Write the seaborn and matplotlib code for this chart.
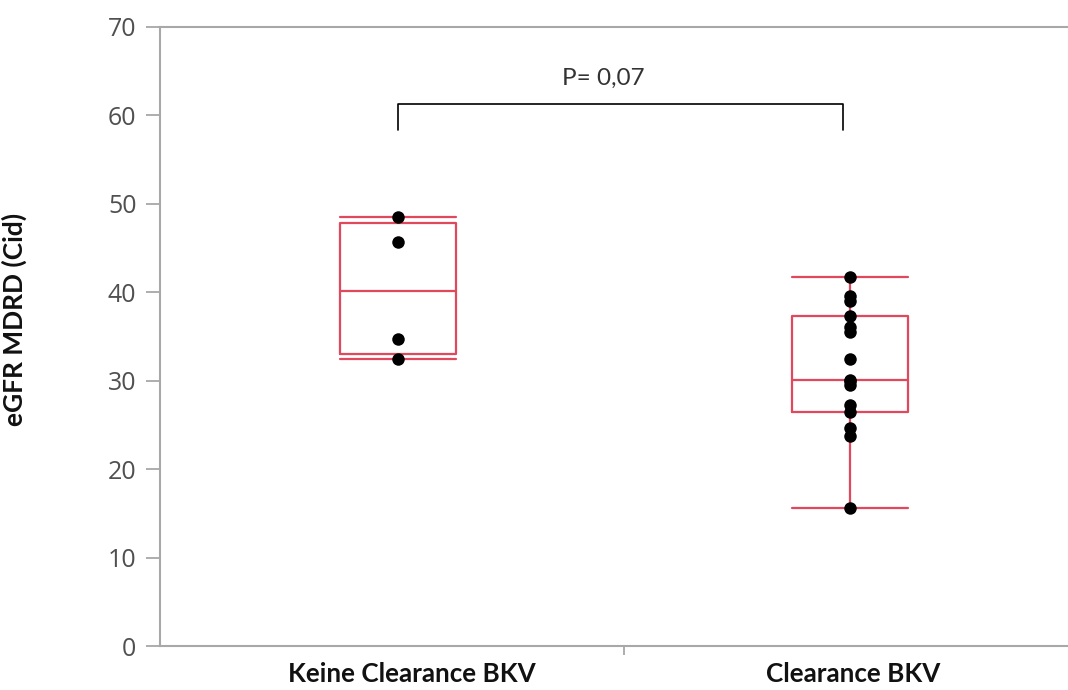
import numpy as np
import pandas as pd
import seaborn as sns
import matplotlib
matplotlib.use("Agg")
import matplotlib.pyplot as plt
from matplotlib.ticker import FixedLocator
from matplotlib.transforms import ScaledTranslation

# ---- data ----
categories = ["Keine Clearance BKV", "Clearance BKV"]
keine_values = [32.5, 34.7, 45.7, 48.5]
clearance_values = [15.6, 23.7, 24.7, 26.5, 27.3, 29.5, 30.0, 30.1,
                    32.4, 35.5, 36.1, 37.3, 39.0, 39.6, 41.7]
y_ticks = [0, 10, 20, 30, 40, 50, 60, 70]
p_text = "P= 0,07"
y_label = "eGFR MDRD (Cid)"

df = pd.DataFrame({
    "group": [categories[0]] * len(keine_values) + [categories[1]] * len(clearance_values),
    "value": keine_values + clearance_values,
})

sns.set_theme(style="white")
plt.rcParams['font.family'] = ['Open Sans', 'DejaVu Sans']

fig = plt.figure(figsize=(10.68, 6.90), dpi=100)
ax = fig.add_axes([160 / 1068, 44 / 690, 1 - 160 / 1068, (646 - 27) / 690])

# box statistics (quartiles as computed by the original software)
stats = []
for vals in (keine_values, clearance_values):
    v = np.sort(np.asarray(vals, dtype=float))
    q1, med, q3 = np.percentile(v, [25, 50, 75], method="weibull")
    iqr = q3 - q1
    lo = v[v >= q1 - 1.5 * iqr].min()
    hi = v[v <= q3 + 1.5 * iqr].max()
    stats.append(dict(med=med, q1=q1, q3=q3, whislo=lo, whishi=hi, fliers=[]))

red = "#e2485c"
lw = 1.6
ax.bxp(stats, positions=[0, 1], widths=0.255, showfliers=False,
       boxprops=dict(color=red, linewidth=lw),
       whiskerprops=dict(color=red, linewidth=lw),
       capprops=dict(color=red, linewidth=lw),
       medianprops=dict(color=red, linewidth=lw),
       capwidths=0.255, manage_ticks=False)

sns.stripplot(data=df, x="group", y="value", order=categories, jitter=False,
              color="black", size=9, ax=ax, zorder=5)

# significance bracket
ax.plot([0, 0, 0.985, 0.985], [58.3, 61.3, 61.3, 58.3], color="black", lw=1.2, zorder=6)
ax.text(0.455, 64.2, p_text, ha="center", va="center", fontsize=17.5, color="#333333",
        family=["Lato", "DejaVu Sans"])

ax.set_xlim(-0.5265, 1.482)
ax.set_ylim(0, 70)
ax.set_yticks(y_ticks)
ax.set_yticklabels([str(t) for t in y_ticks], fontsize=18, color="#505050")
ax.set_xticks([0, 1])
ax.set_xticklabels([""] * len(categories))
# category labels, placed under each category (slightly offset as in the original)
base = ax.get_xaxis_transform()
for i, (cat, dx) in enumerate(zip(categories, [14, 3])):
    ax.text(i, 0, cat, transform=base + ScaledTranslation(dx / 100, -16 / 100, fig.dpi_scale_trans),
            ha="center", va="top", fontsize=18.7, fontweight="bold", color="#111111",
            family=["Lato", "DejaVu Sans"], clip_on=False)
ax.xaxis.set_minor_locator(FixedLocator([0.5]))
ax.tick_params(axis="x", which="major", length=0)
ax.tick_params(axis="x", which="minor", length=6.5, width=1.2, color="#a0a0a0", direction="out", bottom=True)
ax.tick_params(axis="y", which="major", length=10, width=1.2, color="#a0a0a0", direction="out", left=True, pad=7)
ax.set_xlabel("")
ax.set_ylabel(y_label, fontsize=19, fontweight="bold", color="#111111",
              family=["Lato", "DejaVu Sans"])
ax.yaxis.set_label_coords((27 - 160) / 908, (646 - 319) / 619)

for side in ("left", "top", "bottom"):
    ax.spines[side].set_color("#a8a8a8")
    ax.spines[side].set_linewidth(1.5)
ax.spines["right"].set_visible(False)

fig.savefig("out.png", dpi=100, facecolor="white")
